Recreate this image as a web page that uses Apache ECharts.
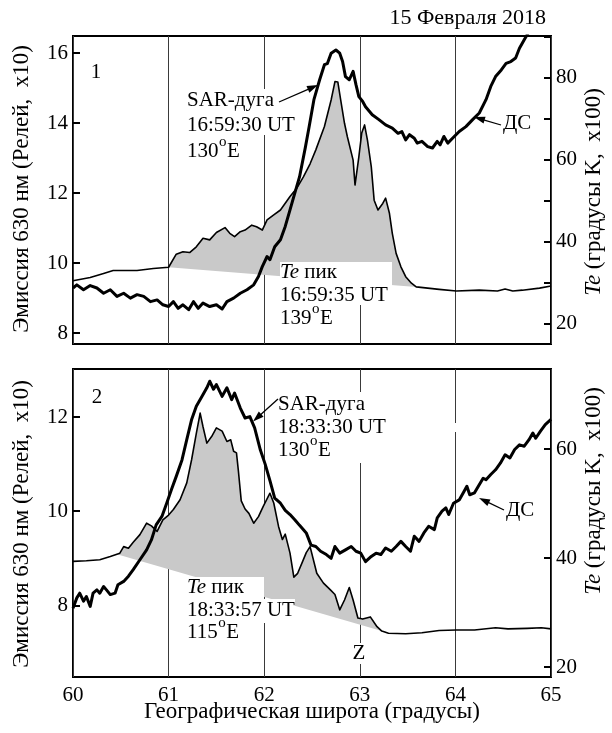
<!DOCTYPE html>
<html><head><meta charset="utf-8">
<script src="https://cdn.jsdelivr.net/npm/echarts@6/dist/echarts.min.js"></script>
<style>html,body{margin:0;padding:0;background:#fff}#c{width:612px;height:733px}</style>
</head><body><div id="c"></div>
<script>
// ---------- DATA ----------
const latTicks = [60, 61, 62, 63, 64, 65];
const leftTicks1 = [8, 10, 12, 14, 16];
const rightTicks1 = [20, 40, 60, 80];
const leftTicks2 = [8, 10, 12];
const rightTicks2 = [20, 40, 60];

// Panel 1: Te (right axis, x100 K) – thin line
const p1TeLat = [60.00,60.18,60.32,60.42,60.67,60.84,61.00,61.08,61.15,61.22,61.29,61.36,61.43,61.50,61.59,61.64,61.69,61.75,61.80,61.87,61.92,61.98,62.03,62.10,62.17,62.27,62.34,62.41,62.48,62.54,62.63,62.70,62.74,62.77,62.80,62.84,62.87,62.93,62.95,62.99,63.02,63.05,63.08,63.12,63.15,63.19,63.24,63.27,63.31,63.34,63.38,63.43,63.48,63.54,63.59,63.83,64.01,64.25,64.44,64.52,64.60,64.70,64.88,65.00];
const p1TeVal = [30.4,31.2,32.2,32.9,32.9,33.4,33.7,36.9,37.5,37.3,38.7,40.8,40.4,42.2,43.4,42.0,41.2,42.4,42.8,44.0,43.6,42.8,45.3,46.5,47.7,51.0,53.0,55.8,59.0,62.4,68.1,74.6,79.1,79.0,74.6,68.9,65.6,59.9,53.8,60.7,66.5,68.5,64.8,58.3,50.1,47.7,49.3,50.6,46.9,42.0,37.1,33.8,31.4,29.8,28.9,28.3,27.9,28.1,27.9,28.4,27.9,28.1,28.6,29.1];
// Panel 1: emission 630 nm (left axis, R x10) – thick line
const p1EmLat = [60.00,60.04,60.11,60.18,60.25,60.32,60.39,60.46,60.53,60.60,60.67,60.74,60.81,60.88,60.94,61.00,61.05,61.10,61.15,61.21,61.26,61.31,61.36,61.43,61.50,61.56,61.61,61.68,61.75,61.82,61.89,61.94,61.98,62.03,62.06,62.11,62.17,62.22,62.27,62.32,62.37,62.43,62.47,62.52,62.58,62.63,62.66,62.70,62.75,62.79,62.82,62.85,62.89,62.93,62.96,62.99,63.03,63.06,63.13,63.20,63.27,63.34,63.40,63.44,63.48,63.52,63.57,63.60,63.65,63.71,63.76,63.81,63.84,63.88,63.92,63.97,64.04,64.11,64.18,64.25,64.32,64.37,64.42,64.48,64.53,64.58,64.63,64.67,64.72,64.76,64.82];
const p1EmVal = [9.29,9.38,9.24,9.36,9.29,9.14,9.24,9.05,9.14,9.00,9.10,9.05,8.90,8.95,8.81,8.76,8.90,8.71,8.81,8.67,8.90,8.71,8.86,8.76,8.81,8.69,8.90,9.00,9.14,9.24,9.38,9.62,9.90,10.19,10.10,10.47,10.67,11.05,11.52,12.00,12.47,13.30,13.90,14.67,15.24,15.67,15.70,16.00,16.09,16.00,15.76,15.33,15.24,15.48,15.10,14.76,14.62,14.47,14.24,14.10,13.95,13.86,13.71,13.76,13.52,13.67,13.57,13.43,13.48,13.33,13.29,13.48,13.38,13.62,13.43,13.57,13.76,13.90,14.10,14.29,14.67,15.05,15.33,15.52,15.71,15.76,15.86,16.14,16.38,16.57,16.90];
// Panel 1 shaded Te peak: latitude span and baseline Te at its ends
const p1PeakLat = [61.00, 63.59];
const p1PeakBase = [33.7, 28.9];

// Panel 2: Te (right axis) – thin line
const p2TeLat = [60.00,60.14,60.28,60.39,60.49,60.53,60.58,60.63,60.70,60.77,60.82,60.88,60.94,61.00,61.05,61.12,61.19,61.24,61.29,61.33,61.36,61.40,61.45,61.50,61.56,61.61,61.65,61.68,61.71,61.73,61.76,61.80,61.84,61.89,61.94,61.99,62.06,62.10,62.15,62.19,62.22,62.27,62.31,62.35,62.40,62.44,62.48,62.55,62.62,62.69,62.74,62.79,62.84,62.89,62.93,62.98,63.03,63.11,63.18,63.23,63.30,63.48,63.65,63.83,64.01,64.20,64.42,64.55,64.75,64.90,65.00];
const p2TeVal = [39.4,39.5,39.7,40.3,40.9,42.1,41.8,42.9,44.3,46.4,45.9,44.9,47.0,47.9,48.9,50.7,53.8,58.0,62.9,66.6,64.1,61.1,62.3,63.9,63.3,61.4,61.7,59.6,59.3,56.0,50.5,49.0,48.2,46.4,47.6,49.5,51.9,50.1,45.8,43.4,44.4,40.9,36.5,37.2,39.3,41.0,42.1,37.2,35.4,34.2,33.3,30.5,32.3,34.6,32.3,29.0,28.8,29.2,27.4,26.6,26.2,26.1,26.3,26.7,26.8,26.8,27.2,27.0,27.1,27.2,27.0];
// Panel 2: emission 630 nm (left axis) – thick line
const p2EmLat = [60.00,60.04,60.07,60.11,60.14,60.18,60.21,60.25,60.28,60.32,60.35,60.39,60.44,60.47,60.53,60.58,60.63,60.70,60.77,60.82,60.87,60.93,60.98,61.03,61.08,61.14,61.19,61.24,61.29,61.35,61.40,61.43,61.47,61.50,61.56,61.61,61.66,61.69,61.75,61.80,61.85,61.90,61.96,62.01,62.06,62.11,62.17,62.22,62.27,62.32,62.37,62.44,62.49,62.54,62.59,62.65,62.70,62.74,62.79,62.85,62.91,62.96,63.01,63.06,63.12,63.17,63.22,63.27,63.33,63.38,63.43,63.48,63.53,63.57,63.62,63.67,63.72,63.78,63.81,63.86,63.90,63.93,63.98,64.04,64.09,64.12,64.15,64.20,64.24,64.29,64.32,64.37,64.42,64.47,64.52,64.57,64.62,64.67,64.72,64.77,64.81,64.84,64.89,64.94,65.00];
const p2EmVal = [7.94,8.16,8.26,8.09,8.19,7.98,8.26,8.33,8.26,8.40,8.33,8.23,8.26,8.44,8.51,8.62,8.76,8.97,9.18,9.39,9.71,9.89,10.17,10.46,10.74,11.09,11.52,11.94,12.23,12.44,12.62,12.76,12.59,12.69,12.44,12.62,12.37,12.51,12.19,11.98,12.01,11.77,11.30,11.00,10.65,10.28,10.17,10.02,9.93,9.82,9.70,9.54,9.28,9.25,9.15,9.08,9.00,9.25,9.11,9.18,9.25,9.15,9.11,8.93,9.04,9.11,9.08,9.22,9.15,9.25,9.36,9.25,9.15,9.47,9.36,9.54,9.68,9.61,9.86,10.00,10.07,9.93,10.17,10.24,10.42,10.53,10.35,10.39,10.53,10.70,10.67,10.78,10.88,11.02,11.20,11.13,11.31,11.41,11.38,11.52,11.66,11.55,11.70,11.84,11.95];
const p2PeakLat = [60.46, 63.23];
const p2PeakBase = [40.7, 26.6];

// ---------- CHART ----------
const FF = '"Liberation Serif", "Times New Roman", serif';
const chart = echarts.init(document.getElementById('c'), null, {renderer: 'canvas'});
const measureCtx = document.createElement('canvas').getContext('2d');
function textWidth(t, size) { measureCtx.font = size + 'px ' + FF; return measureCtx.measureText(t).width; }

function pairs(xs, ys) { return xs.map((x, i) => [x, ys[i]]); }

function xAx(grid, labels) {
  return {type: 'value', gridIndex: grid, min: latTicks[0], max: latTicks[latTicks.length - 1], interval: 1,
    axisLine: {show: false}, axisTick: {show: false},
    axisLabel: {show: labels, margin: 8, color: '#000', fontFamily: FF, fontSize: 21},
    splitLine: {show: true, lineStyle: {color: '#3a3a3a', width: 1}}};
}
function yAx(grid, pos, min, max, step, labelTicks) {
  return {type: 'value', gridIndex: grid, position: pos, min: min, max: max,
    minInterval: step, maxInterval: step, splitNumber: Math.round((max - min) / step),
    axisLine: {show: false},
    axisTick: {show: true, inside: true, length: 7, lineStyle: {color: '#000', width: 2}},
    axisLabel: {show: true, margin: 5, color: '#000', fontFamily: FF, fontSize: 21,
      showMinLabel: false, showMaxLabel: false,
      formatter: v => (labelTicks.some(t => Math.abs(t - v) < 1e-6) ? String(Math.round(v)) : '')},
    splitLine: {show: false}};
}
function peakFill(lat, val, span, base, xi, yi) {
  return {type: 'custom', xAxisIndex: xi, yAxisIndex: yi, silent: true, z: 1, clip: true,
    data: [[span[0], base[0]]],
    renderItem: function (params, api) {
      const pts = [api.coord([span[0], base[0]])];
      for (let i = 0; i < lat.length; i++) {
        if (lat[i] > span[0] && lat[i] < span[1]) pts.push(api.coord([lat[i], val[i]]));
      }
      pts.push(api.coord([span[1], base[1]]));
      return {type: 'polygon', shape: {points: pts}, style: {fill: '#c9c9c9'}};
    }};
}
function line(lat, val, xi, yi, w) {
  return {type: 'line', xAxisIndex: xi, yAxisIndex: yi, data: pairs(lat, val), symbol: 'none',
    showSymbol: false, clip: true, z: 3, silent: true,
    lineStyle: {color: '#000', width: w, join: 'round'}};
}

// ---------- annotation helpers ----------
function txt(x, y, text, opts) {
  opts = opts || {};
  const size = opts.size || 21;
  const st = {text: text, x: 0, y: 0, font: size + 'px ' + FF, fill: '#000',
    align: opts.align || 'left', textAlign: opts.align || 'left',
    verticalAlign: 'middle', textVerticalAlign: 'middle',
    rich: {
      i: {font: 'italic ' + size + 'px ' + FF, fill: '#000'},
      n: {font: size + 'px ' + FF, fill: '#000'}
    }};
  return {type: 'text', x: x, y: y, rotation: opts.rot || 0, z: 60, silent: true, style: st};
}
// "130", superscript "o", "E"
function degLabel(x, y, num) {
  const w1 = textWidth(num, 21);
  const w2 = textWidth('o', 15);
  return [txt(x, y, num), txt(x + w1 + 0.5, y - 8.5, 'o', {size: 15}), txt(x + w1 + w2 + 1, y, 'E')];
}
function rect(x, y, w, h) {
  return {type: 'rect', shape: {x: x, y: y, width: w, height: h}, z: 50, silent: true,
    style: {fill: '#fff'}};
}
function arrow(x1, y1, x2, y2) {
  const L = 11, W = 3.6;
  const dx = x2 - x1, dy = y2 - y1, d = Math.hypot(dx, dy), ux = dx / d, uy = dy / d;
  const bx = x2 - ux * L, by = y2 - uy * L;
  return [
    {type: 'line', z: 60, silent: true, shape: {x1: x1, y1: y1, x2: bx + ux * 2, y2: by + uy * 2},
      style: {stroke: '#000', lineWidth: 1.3}},
    {type: 'polygon', z: 60, silent: true,
      shape: {points: [[x2, y2], [bx - uy * W, by + ux * W], [bx + uy * W, by - ux * W]]},
      style: {fill: '#000'}}
  ];
}

const graphics = [].concat(
  [
    // white boxes behind labels
    rect(184, 89, 113, 46),
    rect(280, 262, 112, 43),
    rect(276, 392, 122, 71),
    rect(185, 577, 79, 22),
    rect(185, 599, 110, 24),
    rect(351, 643, 17, 21),
    rect(452, 423, 6, 9),
    // title and panel numbers
    txt(546, 18, '15 Февраля 2018', {align: 'right', size: 22}),
    txt(96, 72, '1', {align: 'center'}),
    txt(97, 397, '2', {align: 'center'}),
    // axis names
    txt(22, 189, 'Эмиссия 630 нм (Релей,  x10)', {align: 'center', rot: Math.PI / 2, size: 23}),
    txt(22, 524, 'Эмиссия 630 нм (Релей,  x10)', {align: 'center', rot: Math.PI / 2, size: 23}),
    txt(594, 192, '{i|Te} (градусы K,  x100)', {align: 'center', rot: Math.PI / 2, size: 23}),
    txt(594, 491, '{i|Te} (градусы K,  x100)', {align: 'center', rot: Math.PI / 2, size: 23}),
    txt(312, 712, 'Географическая широта (градусы)', {align: 'center', size: 23}),
    // panel 1 annotations
    txt(187, 100, 'SAR-дуга'),
    txt(187, 125, '16:59:30 UT'),
    txt(280, 272, '{i|Te} пик'),
    txt(280, 295, '16:59:35 UT'),
    txt(503, 123, 'ДС'),
    // panel 2 annotations
    txt(278, 404, 'SAR-дуга'),
    txt(278, 427, '18:33:30 UT'),
    txt(187, 587, '{i|Te} пик'),
    txt(187, 610, '18:33:57 UT'),
    txt(506, 510, 'ДС'),
    txt(359, 653, 'Z', {align: 'center'})
  ],
  degLabel(187, 151, '130'),
  degLabel(280, 318, '139'),
  degLabel(278, 450, '130'),
  degLabel(187, 632, '115'),
  arrow(279, 102, 318, 85),
  arrow(501, 125, 474, 117),
  arrow(278, 399, 253, 421.5),
  arrow(504, 510, 479, 498)
);

chart.setOption({
  animation: false,
  backgroundColor: '#fff',
  textStyle: {fontFamily: FF},
  grid: [
    {left: 73, top: 36, width: 478, height: 308, show: true, borderColor: '#000', borderWidth: 2, backgroundColor: 'transparent', containLabel: false, outerBoundsMode: 'none'},
    {left: 73, top: 369, width: 478, height: 308, show: true, borderColor: '#000', borderWidth: 2, backgroundColor: 'transparent', containLabel: false, outerBoundsMode: 'none'}
  ],
  xAxis: [xAx(0, false), xAx(1, true)],
  yAxis: [
    yAx(0, 'left', 7.69, 16.49, 2, leftTicks1),
    yAx(0, 'right', 14.94, 90.24, 10, rightTicks1),
    yAx(1, 'left', 6.48, 13.02, 2, leftTicks2),
    yAx(1, 'right', 18.17, 74.7, 20, rightTicks2)
  ],
  series: [
    peakFill(p1TeLat, p1TeVal, p1PeakLat, p1PeakBase, 0, 1),
    line(p1TeLat, p1TeVal, 0, 1, 1.6),
    line(p1EmLat, p1EmVal, 0, 0, 3),
    peakFill(p2TeLat, p2TeVal, p2PeakLat, p2PeakBase, 1, 3),
    line(p2TeLat, p2TeVal, 1, 3, 1.6),
    line(p2EmLat, p2EmVal, 1, 2, 3)
  ],
  graphic: {elements: graphics}
});
</script></body></html>
